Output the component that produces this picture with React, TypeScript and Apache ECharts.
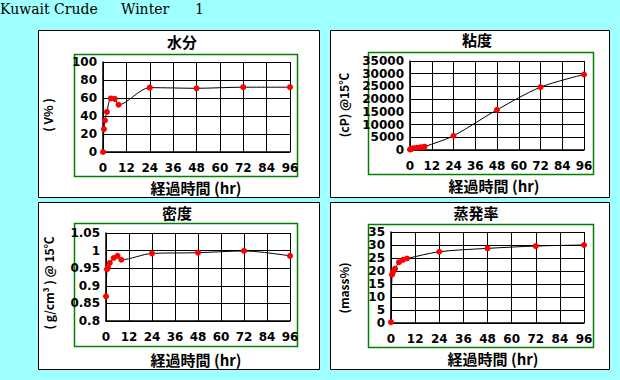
import React, { useEffect, useRef } from "react";
import * as echarts from "echarts";

const hours = [0, 0.5, 1, 2, 4, 6, 8, 24, 48, 72, 96];
const water = [0, 25.5, 35, 44.5, 59.5, 59, 52.5, 71.5, 70.8, 72, 72];
const viscosity = [200, 350, 500, 700, 900, 1100, 1300, 5600, 15800, 24700, 29700];
const density = [0.87, 0.947, 0.951, 0.965, 0.979, 0.985, 0.974, 0.992, 0.994, 0.999, 0.985];
const evaporation = [0.3, 18.6, 19.6, 20.9, 23.4, 24.3, 24.8, 27.4, 28.7, 29.6, 30.0];

const xTicks = [0, 12, 24, 36, 48, 60, 72, 84, 96];

const panelTitles = ["水分", "粘度", "密度", "蒸発率"];
const yNames = ["( V% )", "(cP) @15℃", "( g/cm³ ) @ 15℃", "(mass%)"];
const xName = "経過時間 (hr)";
const header = ["Kuwait Crude", "Winter", "1"];

const CJK = "'Noto Sans CJK JP', 'DejaVu Sans', sans-serif";
const NUM = "'DejaVu Sans', sans-serif";

export default function App() {
  const ref = useRef<HTMLDivElement>(null);
  useEffect(() => {
    if (!ref.current) return;
    const chart = echarts.init(ref.current, undefined, { renderer: "svg" });

    const grids = [
      { left: 103, top: 62, width: 187, height: 90 },
      { left: 410, top: 61, width: 174, height: 89 },
      { left: 106, top: 233, width: 184, height: 88 },
      { left: 391, top: 232, width: 193, height: 91 },
    ];
    const yCfg = [
      { min: 0, max: 100, interval: 20 },
      { min: 0, max: 35000, interval: 5000 },
      { min: 0.8, max: 1.05, interval: 0.05 },
      { min: 0, max: 35, interval: 5 },
    ];
    const datasets = [water, viscosity, density, evaporation];
    const outer = [
      { x: 38, y: 30, w: 281, h: 167 },
      { x: 330, y: 30, w: 279, h: 167 },
      { x: 38, y: 202, w: 281, h: 167 },
      { x: 330, y: 202, w: 279, h: 167 },
    ];
    const green = [
      { x: 74, y: 54, w: 223, h: 122 },
      { x: 368, y: 52, w: 225, h: 122 },
      { x: 74, y: 223, w: 223, h: 123 },
      { x: 368, y: 224, w: 225, h: 123 },
    ];
    const titlePos = [
      { x: 182, y: 41 },
      { x: 477, y: 39 },
      { x: 177, y: 212 },
      { x: 476, y: 212 },
    ];
    const xNamePos = [
      { x: 196, y: 187 },
      { x: 494, y: 185 },
      { x: 196, y: 359 },
      { x: 493, y: 358 },
    ];
    const yNamePos = [
      { x: 47, y: 115 },
      { x: 343, y: 105 },
      { x: 48, y: 283 },
      { x: 343, y: 288 },
    ];

    const graphics: any[] = [];
    outer.forEach((o) => {
      graphics.push({
        type: "rect",
        z: -10,
        shape: { x: o.x + 0.5, y: o.y + 0.5, width: o.w, height: o.h },
        style: { fill: "#ffffff", stroke: "#000000", lineWidth: 1 },
      });
    });
    green.forEach((g) => {
      graphics.push({
        type: "rect",
        z: -9,
        shape: { x: g.x + 0.5, y: g.y + 0.5, width: g.w, height: g.h },
        style: { fill: "none", stroke: "#008000", lineWidth: 1.5 },
      });
    });
    titlePos.forEach((p, i) => {
      graphics.push({
        type: "text",
        x: p.x,
        y: p.y,
        style: {
          text: panelTitles[i],
          fill: "#000",
          font: `bold 15px ${CJK}`,
          align: "center",
          verticalAlign: "middle",
        },
      });
    });
    xNamePos.forEach((p) => {
      graphics.push({
        type: "text",
        x: p.x,
        y: p.y,
        style: {
          text: xName,
          fill: "#000",
          font: `bold 15px ${CJK}`,
          align: "center",
          verticalAlign: "middle",
        },
      });
    });
    yNamePos.forEach((p, i) => {
      graphics.push({
        type: "text",
        x: p.x,
        y: p.y,
        rotation: Math.PI / 2,
        style: {
          text: yNames[i],
          fill: "#000",
          font: `bold 12px ${CJK}`,
          align: "center",
          verticalAlign: "middle",
        },
      });
    });
    const headerX = [0, 121, 195];
    header.forEach((t, i) => {
      graphics.push({
        type: "text",
        x: headerX[i],
        y: 9,
        style: {
          text: t,
          fill: "#000",
          font: `14px 'DejaVu Serif', 'Liberation Serif', serif`,
          align: "left",
          verticalAlign: "middle",
        },
      });
    });

    const option: any = {
      animation: false,
      backgroundColor: "#a0ffff",
      grid: grids.map((g) => ({ ...g, containLabel: false })),
      xAxis: grids.map((_, i) => ({
        type: "value",
        gridIndex: i,
        min: 0,
        max: 96,
        interval: 12,
        axisLine: { show: true, onZero: false, lineStyle: { color: "#000", width: 1.5 } },
        axisTick: { show: false },
        splitLine: { show: true, lineStyle: { color: "#000", width: 1 } },
        axisLabel: {
          color: "#000",
          fontWeight: "bold",
          fontSize: 12,
          fontFamily: NUM,
          margin: 10,
          showMinLabel: true,
          showMaxLabel: true,
          formatter: (v: number) => (xTicks.includes(v) ? String(v) : ""),
        },
      })),
      yAxis: grids.map((_, i) => ({
        type: "value",
        gridIndex: i,
        ...yCfg[i],
        axisLine: { show: true, lineStyle: { color: "#000", width: 1.5 } },
        axisTick: { show: false },
        splitLine: { show: true, lineStyle: { color: "#000", width: 1 } },
        axisLabel: {
          color: "#000",
          fontWeight: "bold",
          fontSize: 12,
          fontFamily: NUM,
          margin: 6,
          formatter: (v: number) => String(parseFloat(v.toFixed(2))),
        },
      })),
      series: datasets.map((d, i) => ({
        type: "line",
        xAxisIndex: i,
        yAxisIndex: i,
        data: hours.map((h, k) => [h, d[k]]),
        smooth: 0.3,
        symbol: "circle",
        symbolSize: 6,
        itemStyle: { color: "#ff0000", borderWidth: 0 },
        lineStyle: { color: "#000", width: 1 },
        z: 5,
      })),
      graphic: graphics,
    };
    chart.setOption(option);
    return () => chart.dispose();
  }, []);
  return (
    <div
      ref={ref}
      style={{ position: "fixed", left: 0, top: 0, width: 620, height: 380 }}
    />
  );
}
